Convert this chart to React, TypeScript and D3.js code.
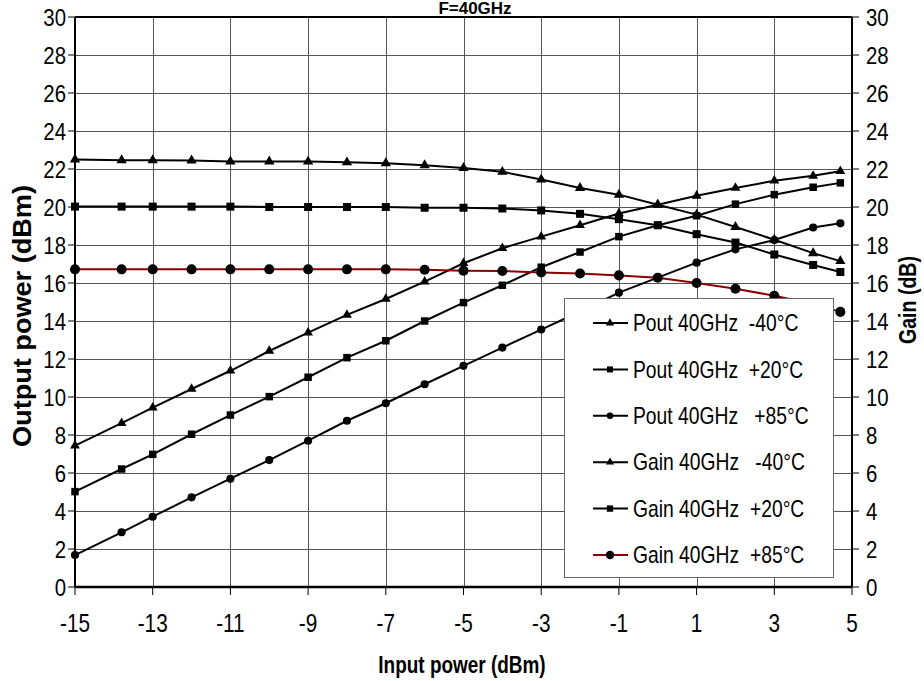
import React from 'react';
import * as d3 from 'd3';

// ---- data ----
const inputPower = [-15, -13.8, -13, -12, -11, -10, -9, -8, -7, -6, -5, -4, -3, -2, -1, 0, 1, 2, 3, 4, 4.7];
const poutM40 = [7.44, 8.62, 9.44, 10.42, 11.38, 12.42, 13.39, 14.32, 15.16, 16.07, 17.04, 17.83, 18.44, 19.04, 19.66, 20.12, 20.59, 21.0, 21.38, 21.64, 21.88];
const poutP20 = [5.02, 6.21, 6.98, 8.04, 9.05, 10.02, 11.04, 12.07, 12.96, 14.0, 14.97, 15.88, 16.83, 17.63, 18.44, 19.04, 19.54, 20.15, 20.65, 21.04, 21.27];
const poutP85 = [1.68, 2.88, 3.7, 4.72, 5.7, 6.68, 7.7, 8.75, 9.67, 10.67, 11.64, 12.6, 13.55, 14.5, 15.49, 16.28, 17.07, 17.77, 18.26, 18.92, 19.14];
const gainM40 = [22.5, 22.46, 22.46, 22.45, 22.4, 22.4, 22.4, 22.35, 22.3, 22.2, 22.05, 21.85, 21.45, 21.0, 20.65, 20.12, 19.6, 18.95, 18.28, 17.57, 17.15];
const gainP20 = [20.02, 20.02, 20.02, 20.02, 20.02, 20.0, 20.0, 20.0, 20.0, 19.96, 19.96, 19.92, 19.82, 19.64, 19.36, 19.04, 18.57, 18.13, 17.5, 16.95, 16.58];
const gainP85 = [16.72, 16.72, 16.72, 16.72, 16.72, 16.72, 16.72, 16.72, 16.72, 16.7, 16.65, 16.63, 16.55, 16.5, 16.4, 16.28, 16.0, 15.7, 15.33, 14.9, 14.48];

const seriesNames = [
  'Pout 40GHz  -40°C',
  'Pout 40GHz  +20°C',
  'Pout 40GHz   +85°C',
  'Gain 40GHz   -40°C',
  'Gain 40GHz  +20°C',
  'Gain 40GHz  +85°C',
];
const xTicks = [-15, -13, -11, -9, -7, -5, -3, -1, 1, 3, 5];
const yTicks = [0, 2, 4, 6, 8, 10, 12, 14, 16, 18, 20, 22, 24, 26, 28, 30];
const title = 'F=40GHz';
const xTitle = 'Input power (dBm)';
const yTitleLeft = 'Output power (dBm)';
const yTitleRight = 'Gain (dB)';

// ---- layout ----
const W = 924;
const H = 681;
const plot = { left: 75, right: 852, top: 17, bottom: 587 };
const FONT = '"Liberation Sans", Arial, sans-serif';

const x = d3.scaleLinear().domain([-15, 5]).range([plot.left, plot.right]);
const yL = d3.scaleLinear().domain([0, 30]).range([plot.bottom, plot.top]);
const yR = d3.scaleLinear().domain([0, 30]).range([plot.bottom, plot.top]);

type S = { name: string; values: number[]; shape: d3.SymbolType; size: number; legSize: number; color: string; axis: 'L' | 'R' };
const series: S[] = [
  { name: seriesNames[0], values: poutM40, shape: d3.symbolTriangle, size: 42, legSize: 30, color: '#000', axis: 'L' },
  { name: seriesNames[1], values: poutP20, shape: d3.symbolSquare, size: 56, legSize: 36, color: '#000', axis: 'L' },
  { name: seriesNames[2], values: poutP85, shape: d3.symbolCircle, size: 52, legSize: 34, color: '#000', axis: 'L' },
  { name: seriesNames[3], values: gainM40, shape: d3.symbolTriangle, size: 46, legSize: 30, color: '#000', axis: 'R' },
  { name: seriesNames[4], values: gainP20, shape: d3.symbolSquare, size: 64, legSize: 40, color: '#000', axis: 'R' },
  { name: seriesNames[5], values: gainP85, shape: d3.symbolCircle, size: 80, legSize: 56, color: '#8b0000', axis: 'R' },
];

const legend = { x: 564, y: 298, w: 269, h: 279, firstRow: 323, rowGap: 46.4 };

const sc = (cx: number, k: number) => `translate(${cx},0) scale(${k},1) translate(${-cx},0)`;

export default function App() {
  const sx = 0.85;
  return (
    <svg width={W} height={H} style={{ position: 'absolute', left: 0, top: 0, background: '#fff' }} fontFamily={FONT}>
      <rect x={0} y={0} width={W} height={H} fill="#fff" />
      {/* title */}
      <text x={475} y={14} textAnchor="middle" fontSize={17} fontWeight="bold">{title}</text>
      {/* grid */}
      {yTicks.map((t) => (
        <line key={'gy' + t} x1={plot.left} x2={plot.right} y1={Math.round(yL(t)) + 0.5} y2={Math.round(yL(t)) + 0.5} stroke="#555" strokeWidth={1} />
      ))}
      {xTicks.map((t) => (
        <line key={'gx' + t} x1={Math.round(x(t)) + 0.5} x2={Math.round(x(t)) + 0.5} y1={plot.top} y2={plot.bottom} stroke="#555" strokeWidth={1} />
      ))}
      {/* frame */}
      <line x1={plot.left} x2={plot.right} y1={plot.top} y2={plot.top} stroke="#000" strokeWidth={2} />
      <line x1={plot.left} x2={plot.right} y1={plot.bottom} y2={plot.bottom} stroke="#000" strokeWidth={2.5} />
      <line x1={plot.left} x2={plot.left} y1={plot.top} y2={plot.bottom} stroke="#000" strokeWidth={2} />
      <line x1={plot.right} x2={plot.right} y1={plot.top} y2={plot.bottom} stroke="#000" strokeWidth={2} />
      {/* ticks */}
      {yTicks.map((t) => (
        <g key={'ty' + t}>
          <line x1={plot.left - 7} x2={plot.left} y1={yL(t)} y2={yL(t)} stroke="#000" strokeWidth={1} />
          <line x1={plot.right} x2={plot.right + 7} y1={yR(t)} y2={yR(t)} stroke="#000" strokeWidth={1} />
          <text x={66} y={yL(t)} dy="0.36em" textAnchor="end" fontSize={24} transform={sc(66, sx)}>{t}</text>
          <text x={866} y={yR(t)} dy="0.36em" textAnchor="start" fontSize={24} transform={sc(866, sx)}>{t}</text>
        </g>
      ))}
      {xTicks.map((t) => (
        <g key={'tx' + t}>
          <line x1={x(t)} x2={x(t)} y1={plot.bottom} y2={plot.bottom + 8} stroke="#000" strokeWidth={1} />
          <text x={x(t)} y={632} textAnchor="middle" fontSize={25} transform={sc(x(t), 0.83)}>{t}</text>
        </g>
      ))}
      {/* axis titles */}
      <text x={462} y={673} textAnchor="middle" fontSize={24} fontWeight="bold" transform={sc(462, 0.79)}>{xTitle}</text>
      <text transform={`translate(31,316) rotate(-90)`} textAnchor="middle" fontSize={25} fontWeight="bold" textLength={262} lengthAdjust="spacingAndGlyphs">{yTitleLeft}</text>
      <text transform={`translate(916,300) rotate(-90)`} textAnchor="middle" fontSize={24} fontWeight="bold" textLength={88} lengthAdjust="spacingAndGlyphs">{yTitleRight}</text>
      {/* series */}
      {series.map((s, i) => {
        const ys = s.axis === 'L' ? yL : yR;
        const line = d3.line<number>().x((_, j) => x(inputPower[j])).y((v) => ys(v));
        const sym = d3.symbol(s.shape, s.size)();
        return (
          <g key={'s' + i}>
            <path d={line(s.values) || ''} fill="none" stroke={s.color} strokeWidth={2} />
            {s.values.map((v, j) => (
              <path key={j} d={sym || ''} transform={`translate(${x(inputPower[j])},${ys(v)})`} fill="#000" />
            ))}
          </g>
        );
      })}
      {/* legend */}
      <rect x={legend.x + 0.5} y={legend.y + 0.5} width={legend.w} height={legend.h} fill="#fff" stroke="#666" strokeWidth={1} />
      {series.map((s, i) => {
        const ry = legend.firstRow + i * legend.rowGap;
        const sym = d3.symbol(s.shape, s.legSize)();
        return (
          <g key={'l' + i}>
            <line x1={593} x2={628} y1={ry} y2={ry} stroke={s.color} strokeWidth={2} />
            <path d={sym || ''} transform={`translate(610,${ry})`} fill="#000" />
            <text x={633} y={ry} dy="0.36em" fontSize={23} style={{ whiteSpace: 'pre' }} transform={sc(633, 0.84)}>{s.name}</text>
          </g>
        );
      })}
    </svg>
  );
}
